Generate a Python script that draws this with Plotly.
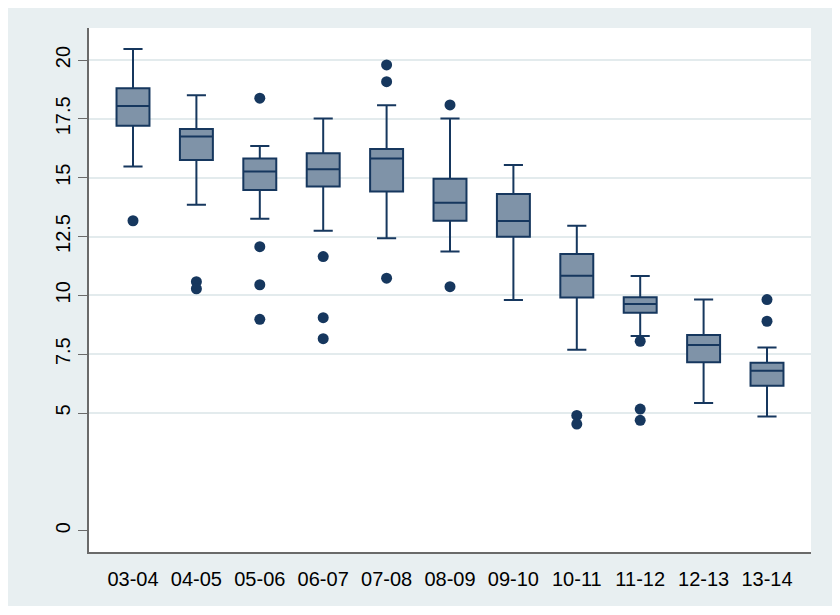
import plotly.graph_objects as go

categories = ["03-04", "04-05", "05-06", "06-07", "07-08", "08-09",
              "09-10", "10-11", "11-12", "12-13", "13-14"]
upper_whisker = [20.47, 18.50, 16.35, 17.51, 18.08, 17.51, 15.54, 12.96, 10.82, 9.82, 7.78]
q3 = [18.80, 17.07, 15.81, 16.04, 16.22, 14.95, 14.31, 11.76, 9.92, 8.32, 7.14]
median = [18.05, 16.75, 15.26, 15.36, 15.81, 13.94, 13.16, 10.83, 9.63, 7.89, 6.80]
q1 = [17.21, 15.75, 14.48, 14.62, 14.41, 13.17, 12.49, 9.91, 9.26, 7.16, 6.16]
lower_whisker = [15.47, 13.85, 13.26, 12.74, 12.43, 11.86, 9.80, 7.69, 8.27, 5.43, 4.85]

outlier_cat = ["03-04", "04-05", "04-05", "05-06", "05-06", "05-06", "05-06",
               "06-07", "06-07", "06-07", "07-08", "07-08", "07-08", "08-09", "08-09",
               "10-11", "10-11", "11-12", "11-12", "11-12", "13-14", "13-14"]
outlier_val = [13.17, 10.58, 10.28, 18.38, 12.07, 10.45, 8.98,
               11.65, 9.05, 8.16, 19.79, 19.08, 10.73, 18.09, 10.37,
               4.90, 4.53, 8.05, 5.17, 4.69, 9.82, 8.90]

y_tickvals = [0, 5, 7.5, 10, 12.5, 15, 17.5, 20]
y_ticktext = ["0", "5", "7.5", "10", "12.5", "15", "17.5", "20"]
grid_vals = [5, 7.5, 10, 12.5, 15, 17.5, 20]

NAVY = "#16375e"
FILL = "#7f93a8"
BG = "#e8eff1"
GRID = "#e3ebed"
AXIS = "#6a6a6a"
FONT = "Liberation Sans, Arial, sans-serif"
YRANGE = [-0.905, 21.36]

fig = go.Figure()
fig.add_trace(go.Box(
    x=categories, q1=q1, median=median, q3=q3,
    lowerfence=lower_whisker, upperfence=upper_whisker,
    fillcolor=FILL, line=dict(color=NAVY, width=2),
    width=0.52, whiskerwidth=0.58, boxpoints=False,
    showlegend=False, hoverinfo="y",
))
fig.add_trace(go.Scatter(
    x=outlier_cat, y=outlier_val, mode="markers", yaxis="y2",
    marker=dict(color=NAVY, size=11, line=dict(width=0)),
    showlegend=False,
))

# page body has an 8px margin, so the figure starts at (8, 8)
fig.update_layout(
    width=824, height=599,
    margin=dict(l=81, r=21, t=20, b=55, autoexpand=False),
    paper_bgcolor="white", plot_bgcolor="white",
    font=dict(family=FONT, size=20, color="#000000"),
    xaxis=dict(
        type="category", categoryorder="array", categoryarray=categories,
        range=[-0.694, 10.694], showgrid=False, zeroline=False, automargin=False,
        showline=True, linecolor=AXIS, linewidth=1.5,
        ticks="", ticklabelstandoff=8,
        tickfont=dict(size=20, family=FONT, color="#000000"),
    ),
    yaxis=dict(
        range=YRANGE, tickvals=y_tickvals, ticktext=y_ticktext, automargin=False,
        tickangle=-90, showgrid=False, zeroline=False,
        showline=True, linecolor=AXIS, linewidth=1.5,
        ticks="outside", ticklen=9, tickwidth=1.2, tickcolor=AXIS,
        tickfont=dict(size=20, family=FONT, color="#000000"),
    ),
    yaxis2=dict(
        range=YRANGE, overlaying="y", tickvals=grid_vals, showgrid=True,
        gridcolor=GRID, gridwidth=2, showticklabels=False, ticks="",
        showline=False, zeroline=False, automargin=False,
    ),
    shapes=[
        dict(type="rect", xref="paper", yref="paper",
             x0=(7 - 89) / 722, x1=(832 - 89) / 722,
             y0=(552 - 606) / 524, y1=(552 - 7) / 524,
             fillcolor=BG, line=dict(width=0), layer="below"),
        dict(type="rect", xref="paper", yref="paper",
             x0=0, x1=1, y0=0, y1=1,
             fillcolor="white", line=dict(width=0), layer="below"),
    ],
)

fig.write_html("out.html")
